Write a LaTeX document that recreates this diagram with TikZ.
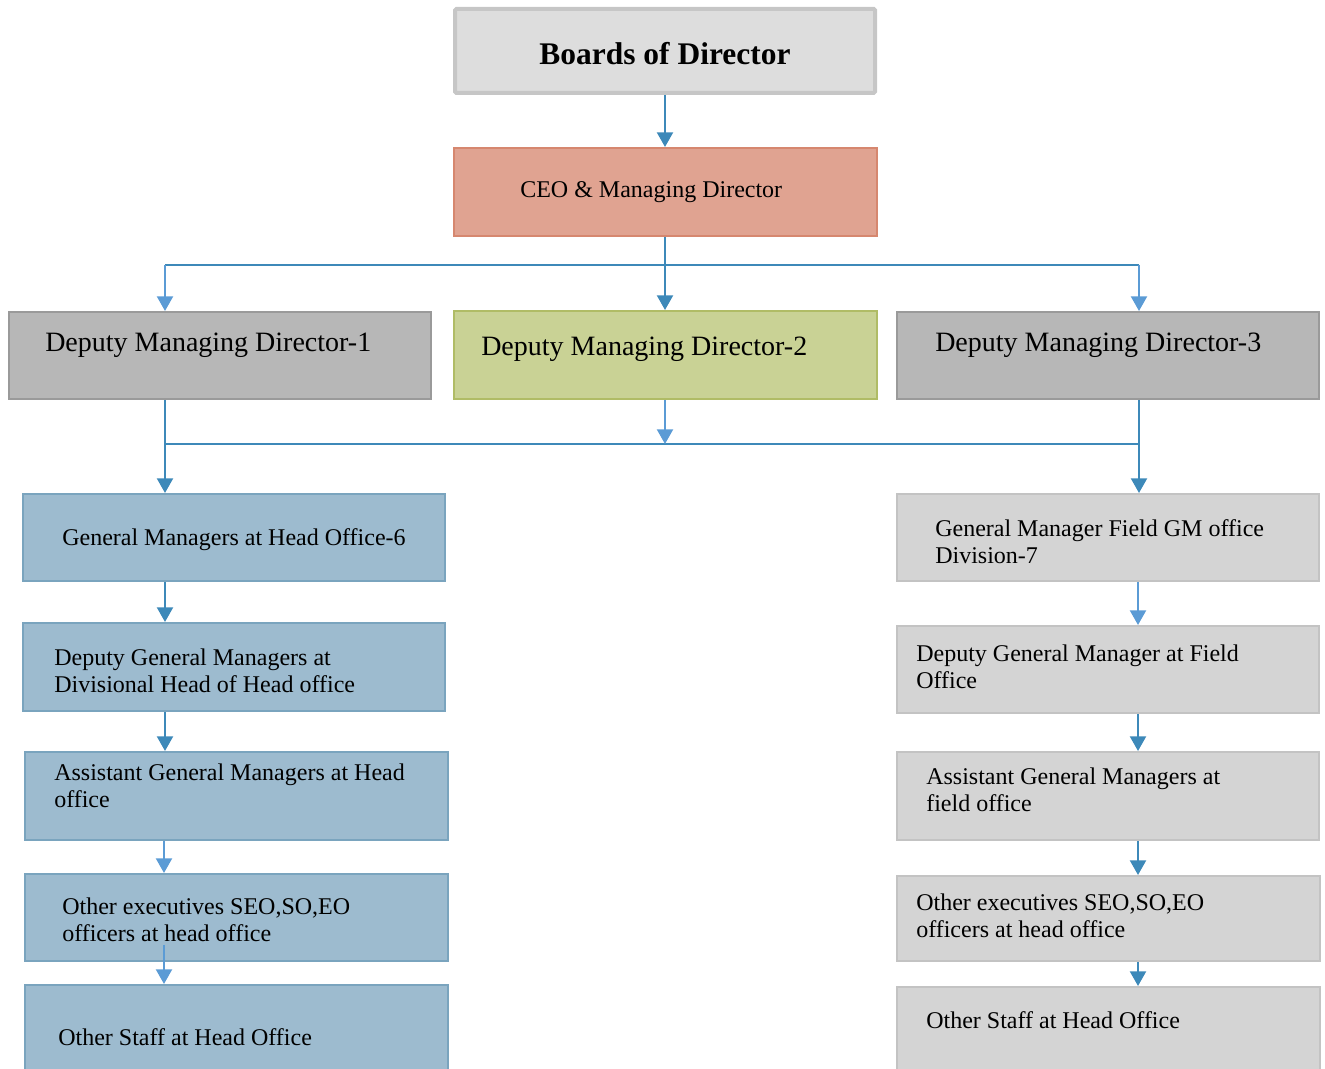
\documentclass[tikz,border=0pt]{standalone}
\usepackage{fontspec}
\setmainfont{Liberation Serif}
\usetikzlibrary{arrows.meta,fit}
\definecolor{dk}{HTML}{3D89B9}
\definecolor{lt}{HTML}{5B9BD5}
\definecolor{bdfill}{HTML}{DDDDDD}\definecolor{bddraw}{HTML}{C6C6C6}
\definecolor{ceofill}{HTML}{E0A391}\definecolor{ceodraw}{HTML}{D6876F}
\definecolor{dmfill}{HTML}{B7B7B7}\definecolor{dmdraw}{HTML}{9A9A9A}
\definecolor{dgfill}{HTML}{C9D295}\definecolor{dgdraw}{HTML}{B0BC66}
\definecolor{blfill}{HTML}{9DBBCF}\definecolor{bldraw}{HTML}{7AA4BE}
\definecolor{grfill}{HTML}{D4D4D4}\definecolor{grdraw}{HTML}{C3C3C3}
\begin{document}
\begin{tikzpicture}[x=0.75pt,y=-0.75pt,
  box/.style={rectangle, inner sep=0pt, line width=1.5pt},
  bluebox/.style={box, fill=blfill, draw=bldraw},
  greybox/.style={box, fill=grfill, draw=grdraw},
  txt/.style={anchor=west, align=left, inner sep=0pt, font=\fontsize{18}{20.5}\selectfont},
  bigtxt/.style={anchor=west, align=left, inner sep=0pt, font=\fontsize{21}{24}\selectfont},
  dkline/.style={draw=dk, line width=1.6pt},
  ltline/.style={draw=lt, line width=1.6pt},
  tip/.style={-{Triangle[width=12pt,length=11pt]}}
]
\useasboundingbox (0,0) rectangle (1325,1069);

% boxes
\node[box, fill=bdfill, draw=bddraw, line width=3pt, rounded corners=1pt, fit={(455,9)(875,93)}] (board) {};
\node[box, fill=ceofill, draw=ceodraw, fit={(454,148)(877,236)}] (ceo) {};
\node[box, fill=dmfill, draw=dmdraw, fit={(9,312)(431,399)}] (dmd1) {};
\node[box, fill=dgfill, draw=dgdraw, fit={(454,311)(877,399)}] (dmd2) {};
\node[box, fill=dmfill, draw=dmdraw, fit={(897,312)(1319,399)}] (dmd3) {};

\node[bluebox, fit={(23,494)(445,581)}] (gmL) {};
\node[bluebox, fit={(23,623)(445,711)}] (dgmL) {};
\node[bluebox, fit={(25,752)(448,840)}] (agmL) {};
\node[bluebox, fit={(25,874)(448,961)}] (exL) {};
\node[bluebox, fit={(25,985)(448,1085)}] (stL) {};

\node[greybox, fit={(897,494)(1319,581)}] (gmR) {};
\node[greybox, fit={(897,626)(1319,713)}] (dgmR) {};
\node[greybox, fit={(897,752)(1319,840)}] (agmR) {};
\node[greybox, fit={(897,876)(1320,961)}] (exR) {};
\node[greybox, fit={(897,987)(1320,1085)}] (stR) {};

% texts
\node[inner sep=0pt, font=\bfseries\fontsize{23.6}{26}\selectfont] (tboard) at (665,54) {Boards of Director};
\node[txt] (tceo) at (520,192) {CEO \& Managing Director};
\node[bigtxt] (tdmd1) at (45,345) {Deputy Managing Director-1};
\node[bigtxt] (tdmd2) at (481,349) {Deputy Managing Director-2};
\node[bigtxt] (tdmd3) at (935,345) {Deputy Managing Director-3};
\node[txt] (tgmL) at (62,540) {General Managers at Head Office-6};
\node[txt] (tdgmL) at (54,671) {Deputy General Managers at\\Divisional Head of Head office};
\node[txt] (tagmL) at (54,786) {Assistant General Managers at Head\\office};
\node[txt] (texL) at (62,920) {Other executives SEO,SO,EO\\officers at head office};
\node[txt] (tstL) at (58,1037) {Other Staff at Head Office};
\node[txt] (tgmR) at (935,542) {General Manager Field GM office\\Division-7};
\node[txt] (tdgmR) at (916,667) {Deputy General Manager at Field\\Office};
\node[txt] (tagmR) at (926,790) {Assistant General Managers at\\field office};
\node[txt] (texR) at (916,916) {Other executives SEO,SO,EO\\officers at head office};
\node[txt] (tstR) at (926,1020) {Other Staff at Head Office};

% junction coordinates
\coordinate (b1L) at (165,265);
\coordinate (b1R) at (1139,265);
\coordinate (b2L) at (165,444);
\coordinate (b2R) at (1139,444);
\coordinate (b2M) at (665,444);
\coordinate (cL) at (165,0);
\coordinate (cR) at (1138,0);

% connectors
\draw[dkline, tip] (board.south) -- (board.south |- ceo.north);
\draw[dkline] (b1L) -- (b1R);
\draw[dkline, tip] (ceo.south -| board.south) -- (board.south |- dmd2.north);
\draw[ltline, tip] (b1L) -- (b1L |- dmd1.north);
\draw[ltline, tip] (b1R) -- (b1R |- dmd3.north);

\draw[dkline] (b2L) -- (b2R);
\draw[dkline, tip] (b2L |- dmd1.south) -- (b2L |- gmL.north);
\draw[dkline, tip] (b2R |- dmd3.south) -- (b2R |- gmR.north);
\draw[ltline, tip] (b2M |- dmd2.south) -- (b2M);

\draw[dkline, tip] (cL |- gmL.south) -- (cL |- dgmL.north);
\draw[dkline, tip] (cL |- dgmL.south) -- (cL |- agmL.north);
\draw[ltline, tip] ([xshift=-0.75pt]cL |- agmL.south) -- ([xshift=-0.75pt]cL |- exL.north);
\draw[ltline, tip] ([xshift=-0.75pt,yshift=13pt]cL |- exL.south) -- ([xshift=-0.75pt]cL |- stL.north);

\draw[ltline, tip] (cR |- gmR.south) -- (cR |- dgmR.north);
\draw[dkline, tip] (cR |- dgmR.south) -- (cR |- agmR.north);
\draw[dkline, tip] (cR |- agmR.south) -- (cR |- exR.north);
\draw[dkline, tip] (cR |- exR.south) -- (cR |- stR.north);
\end{tikzpicture}
\end{document}
